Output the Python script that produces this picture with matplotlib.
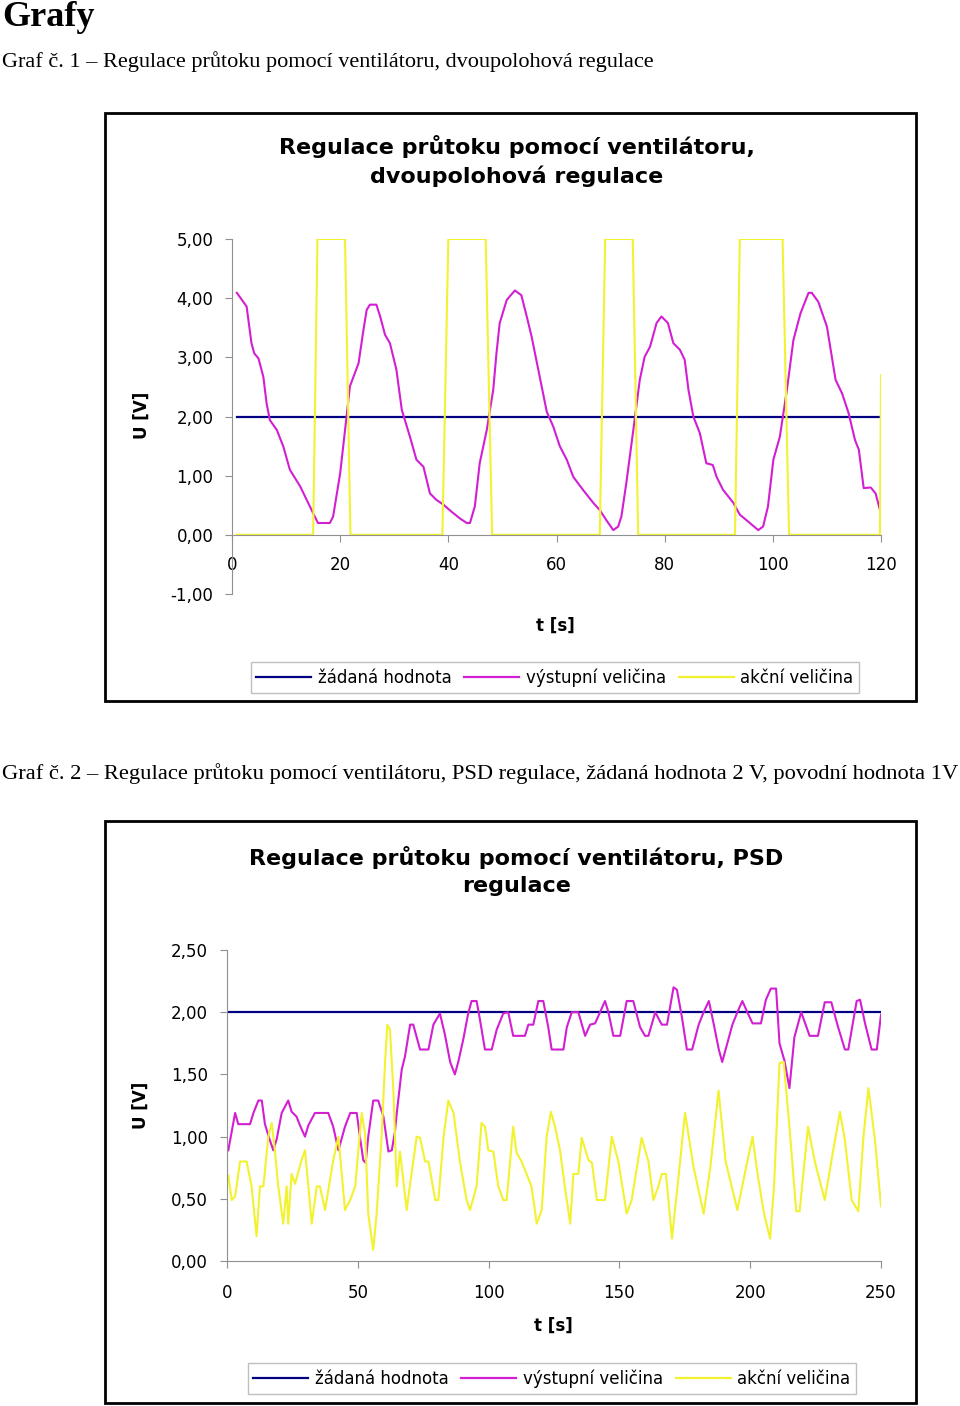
import numpy as np
import matplotlib
matplotlib.use('Agg')
import matplotlib.pyplot as plt
from matplotlib.patches import Rectangle
from matplotlib.lines import Line2D

# ---- data: graf 1 (dvoupolohova regulace) ----
setpoint1_t = [0.9, 120]
setpoint1_v = [2.0, 2.0]

out1_t = [0.9, 2.7, 3.6, 4.1, 4.9, 5.8, 6.4, 7.0, 8.3, 9.5, 10.7, 12.6, 14.4, 15.3, 15.9,
          18.1, 18.7, 20.0, 20.9, 21.8, 23.4, 24.3, 24.9, 25.5, 26.7, 27.4, 28.3, 29.2,
          30.4, 31.4, 32.9, 34.1, 35.4, 36.6, 37.8, 39.1, 40.6, 42.1, 43.4, 44.0, 44.9,
          45.8, 47.1, 48.3, 48.9, 49.5, 50.8, 52.3, 53.5, 54.5, 55.4, 56.9, 58.2, 59.4,
          60.6, 61.9, 63.1, 64.9, 66.8, 68.0, 69.2, 70.5, 71.4, 72.0, 72.9, 74.2, 75.4,
          76.3, 77.3, 78.5, 79.4, 80.6, 81.6, 82.8, 83.7, 84.4, 85.3, 86.5, 87.7, 88.9,
          89.6, 90.8, 92.7, 93.9, 95.1, 97.3, 98.2, 99.1, 100.1, 101.3, 102.6, 103.8,
          105.1, 106.6, 107.2, 108.4, 110.0, 111.6, 112.8, 114.0, 115.2, 115.9, 116.8,
          118.1, 119.0, 119.9]
out1_v = [4.09, 3.86, 3.24, 3.07, 2.98, 2.67, 2.22, 1.94, 1.77, 1.49, 1.10, 0.82, 0.48, 0.31, 0.20,
          0.20, 0.31, 1.04, 1.77, 2.51, 2.90, 3.46, 3.80, 3.89, 3.89, 3.69, 3.38, 3.24,
          2.79, 2.11, 1.66, 1.27, 1.15, 0.70, 0.59, 0.51, 0.39, 0.28, 0.20, 0.20, 0.48,
          1.21, 1.77, 2.45, 3.07, 3.58, 3.97, 4.13, 4.05, 3.69, 3.35, 2.67, 2.08, 1.83,
          1.50, 1.27, 0.98, 0.76, 0.54, 0.42, 0.25, 0.08, 0.14, 0.31, 0.87, 1.77, 2.62,
          3.01, 3.18, 3.58, 3.69, 3.58, 3.24, 3.13, 2.96, 2.45, 2.00, 1.72, 1.21, 1.18,
          0.98, 0.76, 0.54, 0.34, 0.25, 0.08, 0.14, 0.48, 1.27, 1.66, 2.45, 3.29,
          3.74, 4.09, 4.09, 3.94, 3.52, 2.62, 2.39, 2.06, 1.60, 1.44, 0.79,
          0.80, 0.70, 0.39]

act1_t = [0.9, 15.0, 15.8, 20.9, 21.9, 38.9, 40.0, 46.9, 48.1, 68.0, 69.0, 74.1, 75.1,
          93.0, 93.9, 101.8, 103.0, 119.8, 120.0]
act1_v = [0, 0, 5, 5, 0, 0, 5, 5, 0, 0, 5, 5, 0, 0, 5, 5, 0, 0, 2.7]

xticks1 = [0, 20, 40, 60, 80, 100, 120]
yticks1 = [-1, 0, 1, 2, 3, 4, 5]
ylabels1 = ['-1,00', '0,00', '1,00', '2,00', '3,00', '4,00', '5,00']

# ---- data: graf 2 (PSD regulace) ----
setpoint2_t = [0.5, 250]
setpoint2_v = [2.0, 2.0]

out2_t = [0.5, 3.1, 4.3, 8.8, 10.1, 12.0, 13.3, 14.5, 16.4, 17.7, 19.0, 20.9, 23.4, 24.7,
          26.6, 27.9, 29.8, 31.1, 33.6, 38.7, 40.6, 42.6, 45.1, 47.1, 49.6, 50.8, 52.1,
          53.0, 54.0, 55.9, 57.8, 59.8, 61.7, 63.0, 64.2, 64.9, 66.8, 68.0, 70.0, 71.2,
          73.8, 77.0, 78.9, 81.4, 83.3, 85.3, 87.1, 88.4, 90.3, 92.2, 93.5, 95.4, 96.7,
          98.6, 101.2, 103.1, 105.6, 107.5, 109.4, 113.9, 115.2, 117.1, 119.0, 120.9,
          122.8, 124.1, 128.6, 129.9, 131.8, 134.3, 136.9, 138.8, 140.7, 142.6, 144.5,
          145.8, 147.7, 150.3, 152.8, 155.3, 157.9, 159.8, 161.1, 163.7, 166.2, 168.2,
          170.7, 172.0, 173.9, 175.8, 177.8, 180.3, 182.2, 184.2, 186.1, 188.0, 189.3,
          190.6, 193.2, 195.1, 197.0, 198.9, 200.9, 204.1, 206.0, 207.9, 209.9, 211.2,
          213.1, 215.0, 216.9, 219.5, 222.7, 225.9, 228.5, 231.0, 233.6, 236.2, 237.5,
          240.7, 242.0, 243.9, 246.4, 248.4, 250.0]
out2_v = [0.89, 1.19, 1.10, 1.10, 1.19, 1.29, 1.29, 1.10, 0.97, 0.89, 0.98, 1.19, 1.29, 1.20,
          1.16, 1.09, 1.00, 1.09, 1.19, 1.19, 1.08, 0.89, 1.08, 1.19, 1.19, 1.00, 0.81,
          0.79, 1.00, 1.29, 1.29, 1.16, 0.88, 0.89, 1.04, 1.19, 1.54, 1.64, 1.90, 1.90,
          1.70, 1.70, 1.90, 1.99, 1.82, 1.60, 1.50, 1.60, 1.78, 1.99, 2.09, 2.09, 1.94,
          1.70, 1.70, 1.86, 1.99, 2.00, 1.81, 1.81, 1.90, 1.90, 2.09, 2.09,
          1.88, 1.70, 1.70, 1.88, 2.00, 2.00, 1.81, 1.90, 1.91, 2.00, 2.09,
          2.00, 1.81, 1.81, 2.09, 2.09, 1.88, 1.81, 1.81, 2.00, 1.90, 1.90,
          2.20, 2.18, 1.96, 1.70, 1.70, 1.90, 2.00, 2.09, 1.90, 1.70, 1.60,
          1.70, 1.90, 2.00, 2.09, 2.00, 1.91, 1.91, 2.10, 2.19, 2.19, 1.75,
          1.61, 1.39, 1.80, 2.00, 1.81, 1.81, 2.08, 2.08, 1.88, 1.70, 1.70,
          2.09, 2.10, 1.91, 1.70, 1.70, 1.98]

act2_t = [0.5, 1.8, 3.1, 5.0, 7.5, 9.4, 11.3, 12.6, 13.9, 15.8, 17.1, 18.3, 19.6, 21.5, 22.8,
          23.4, 24.7, 26.0, 28.5, 29.8, 31.1, 32.4, 34.3, 35.5, 37.5, 40.6, 42.6, 45.1,
          47.1, 49.0, 51.5, 52.8, 54.0, 55.9, 57.2, 59.1, 60.4, 61.3, 62.3, 63.6, 64.9,
          66.1, 67.4, 68.7, 70.0, 72.5, 73.8, 75.7, 77.0, 79.6, 80.8, 82.8, 84.6, 86.6,
          89.1, 91.6, 92.9, 95.4, 97.3, 98.6, 99.9, 101.8, 103.7, 105.6, 106.9, 109.4,
          110.7, 112.6, 114.5, 116.4, 118.4, 120.3, 122.2, 123.8, 125.4, 127.3, 129.2,
          131.2, 132.4, 134.3, 135.6, 138.2, 139.5, 141.4, 144.5, 147.1, 149.6, 152.8,
          154.7, 158.5, 161.1, 163.0, 164.9, 166.2, 167.8, 170.1, 173.2, 175.1, 178.3,
          182.2, 184.8, 187.9, 190.6, 195.1, 198.9, 200.9, 202.8, 205.3, 207.6, 209.1,
          211.2, 212.8, 215.0, 217.6, 218.9, 222.1, 224.7, 228.5, 231.0, 234.3, 236.2,
          238.8, 241.3, 243.3, 245.2, 247.7, 250.0]
act2_v = [0.69, 0.49, 0.52, 0.80, 0.80, 0.60, 0.20, 0.60, 0.60, 1.00, 1.11, 0.89, 0.60, 0.30, 0.60,
          0.30, 0.70, 0.62, 0.81, 0.89, 0.60, 0.30, 0.60, 0.60, 0.41, 0.81, 1.00, 0.41,
          0.49, 0.60, 1.19, 1.02, 0.38, 0.09, 0.38, 1.00, 1.59, 1.90, 1.86, 1.37, 0.60,
          0.88, 0.65, 0.41, 0.62, 1.00, 0.99, 0.80, 0.80, 0.49, 0.49, 1.00, 1.29, 1.19,
          0.79, 0.49, 0.41, 0.60, 1.11, 1.08, 0.89, 0.88, 0.60, 0.49, 0.49, 1.08,
          0.87, 0.80, 0.70, 0.60, 0.30, 0.41, 1.00, 1.20, 1.08, 0.89, 0.59,
          0.30, 0.70, 0.70, 0.99, 0.81, 0.79, 0.49, 0.49, 1.00, 0.80, 0.38,
          0.49, 0.99, 0.80, 0.49, 0.60, 0.70, 0.70, 0.18, 0.80, 1.19, 0.76,
          0.38, 0.76, 1.37, 0.80, 0.41, 0.80, 1.00, 0.70, 0.38, 0.18, 0.60,
          1.59, 1.60, 1.08, 0.40, 0.40, 1.08, 0.80, 0.49, 0.80, 1.20, 0.97,
          0.49, 0.40, 1.00, 1.39, 0.97, 0.44]

xticks2 = [0, 50, 100, 150, 200, 250]
yticks2 = [0, 0.5, 1.0, 1.5, 2.0, 2.5]
ylabels2 = ['0,00', '0,50', '1,00', '1,50', '2,00', '2,50']

series_names = ['žádaná hodnota', 'výstupní veličina', 'akční veličina']

C_SET = '#000080'
C_OUT = '#d21fd2'
C_ACT = '#f2f230'
SANS = 'DejaVu Sans'
SERIF = 'Liberation Serif'
W, H = 960, 1406

fig = plt.figure(figsize=(9.6, 14.06), dpi=100)


def fx(px):
    return px / W


def fy(py):
    return 1 - py / H


def chart(axbox, box, title, title_y, xlim, ylim, xticks, yticks, ylabels,
          data, xpad, ylab_pos, tlab_pos, leg_box):
    # outer frame of the chart
    fig.add_artist(Rectangle((fx(box[0]), fy(box[3])), fx(box[2] - box[0]),
                             (box[3] - box[1]) / H, transform=fig.transFigure,
                             fill=False, lw=2, ec='black'))
    fig.text(fx((box[0] + box[2]) / 2 + 6), fy(title_y), title, ha='center', va='center',
             family=SANS, fontweight='bold', fontsize=16, linespacing=1.42)
    ax = fig.add_axes([fx(axbox[0]), fy(axbox[3]), fx(axbox[2] - axbox[0]),
                       (axbox[3] - axbox[1]) / H])
    (st, sv), (ot, ov), (at, av) = data
    ax.plot(st, sv, color=C_SET, lw=1.6, label=series_names[0])
    ax.plot(ot, ov, color=C_OUT, lw=1.5, label=series_names[1])
    ax.plot(at, av, color=C_ACT, lw=1.5, label=series_names[2])
    ax.set_xlim(*xlim)
    ax.set_ylim(*ylim)
    for s in ['top', 'right']:
        ax.spines[s].set_visible(False)
    ax.spines['left'].set_color('#909090')
    ax.spines['bottom'].set_color('#909090')
    ax.spines['bottom'].set_position(('data', 0))
    ax.set_xticks(xticks)
    ax.set_xticklabels([str(x) for x in xticks])
    ax.set_yticks(yticks)
    ax.set_yticklabels(ylabels)
    ax.tick_params(axis='y', length=5, color='#909090', pad=8.5, labelsize=12)
    ax.tick_params(axis='x', length=5, color='#909090', pad=xpad, labelsize=12)
    for lab in ax.get_xticklabels() + ax.get_yticklabels():
        lab.set_family(SANS)
    ax.patch.set_visible(False)
    fig.text(fx(ylab_pos[0]), fy(ylab_pos[1]), 'U [V]', rotation=90, ha='center',
             va='center', family=SANS, fontweight='bold', fontsize=12)
    fig.text(fx(tlab_pos[0]), fy(tlab_pos[1]), 't [s]', ha='center', va='center',
             family=SANS, fontweight='bold', fontsize=12)
    handles = [Line2D([], [], color=c, lw=1.6) for c in (C_SET, C_OUT, C_ACT)]
    leg = fig.legend(handles, series_names, loc='center',
                     bbox_to_anchor=(fx((leg_box[0] + leg_box[2]) / 2), fy((leg_box[1] + leg_box[3]) / 2)),
                     ncol=3, frameon=True, fancybox=False, edgecolor='#b0b0b0',
                     prop={'family': SANS, 'size': 12}, handlelength=3.3,
                     handletextpad=0.4, columnspacing=0.75, borderpad=0.35)
    leg.get_frame().set_linewidth(1.0)
    return ax


# headings in the document
fig.text(fx(2), fy(17), 'Grafy', family=SERIF, fontweight='bold', fontsize=26,
         ha='left', va='center')
fig.text(fx(2), fy(62), 'Graf č. 1 – Regulace průtoku pomocí ventilátoru, dvoupolohová regulace',
         family=SERIF, fontsize=16, ha='left', va='center')
fig.text(fx(2), fy(774),
         'Graf č. 2 – Regulace průtoku pomocí ventilátoru, PSD regulace, žádaná hodnota 2 V, povodní hodnota 1V',
         family=SERIF, fontsize=16.2, ha='left', va='center')

chart((232, 239, 881, 594), (105, 113, 916, 701),
      'Regulace průtoku pomocí ventilátoru,\ndvoupolohová regulace', 161,
      (0, 120), (-1, 5), xticks1, yticks1, ylabels1,
      ((setpoint1_t, setpoint1_v), (out1_t, out1_v), (act1_t, act1_v)),
      10, (142, 415), (555, 626), (247, 661, 863, 694))

chart((227, 950, 881, 1261), (105, 821, 916, 1403),
      'Regulace průtoku pomocí ventilátoru, PSD\nregulace', 871,
      (0, 250), (0, 2.5), xticks2, yticks2, ylabels2,
      ((setpoint2_t, setpoint2_v), (out2_t, out2_v), (act2_t, act2_v)),
      11.5, (141, 1105), (553, 1326), (243, 1362, 861, 1395))

fig.savefig('out.png', dpi=100)
